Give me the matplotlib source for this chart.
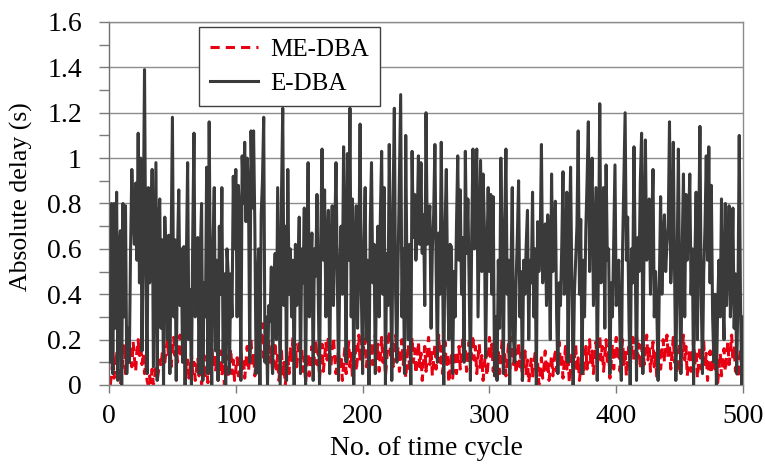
import numpy as np
import matplotlib
matplotlib.use('Agg')
import matplotlib.pyplot as plt
from matplotlib.ticker import MultipleLocator

plt.rcParams['font.family'] = ['Liberation Serif', 'DejaVu Serif']

# 데이터
edba = [
    0.10, 0.80, 0.05, 0.80, 0.25, 0.85, 0.02, 0.60, 0.68, 0.00,
    0.80, 0.30, 0.79, 0.05, 0.25, 0.10, 0.60, 0.95, 0.75, 0.62,
    0.89, 0.55, 1.11, 0.45, 1.00, 0.15, 0.70, 1.39, 0.50, 0.05,
    0.87, 0.45, 0.60, 0.95, 0.08, 0.52, 0.98, 0.02, 0.70, 0.82,
    0.25, 0.64, 0.00, 0.74, 0.55, 0.20, 0.66, 0.05, 0.60, 1.18,
    0.30, 0.64, 0.02, 0.58, 0.86, 0.35, 0.60, 0.10, 0.61, 0.00,
    0.55, 0.98, 0.20, 0.42, 0.00, 0.65, 1.11, 0.30, 0.45, 0.65,
    0.05, 0.58, 0.80, 0.02, 0.45, 0.30, 0.96, 0.05, 1.16, 0.36,
    0.00, 0.62, 0.87, 0.15, 0.55, 0.02, 0.70, 0.40, 0.87, 0.10,
    0.49, 0.00, 0.60, 0.49, 0.05, 0.49, 0.30, 0.92, 0.60, 0.95,
    0.30, 0.88, 0.75, 0.02, 1.01, 0.80, 1.07, 0.72, 1.00, 0.85,
    0.10, 1.12, 0.78, 1.12, 0.70, 0.05, 0.42, 0.60, 0.00, 0.75,
    0.90, 1.18, 0.10, 0.30, 0.00, 0.35, 0.28, 0.52, 0.05, 0.40,
    0.58, 0.20, 0.87, 0.45, 0.00, 0.83, 1.22, 0.35, 0.70, 0.02,
    0.95, 0.40, 0.60, 0.30, 0.55, 0.00, 0.62, 0.35, 0.50, 0.74,
    0.05, 0.60, 0.45, 0.78, 0.00, 0.55, 0.98, 0.30, 0.50, 0.67,
    0.02, 0.60, 0.48, 0.84, 0.40, 0.00, 0.65, 1.04, 0.55, 0.86,
    0.30, 0.62, 0.77, 0.05, 0.58, 0.79, 0.35, 0.65, 0.98, 0.50,
    0.02, 0.52, 0.70, 0.40, 1.05, 0.60, 0.10, 1.02, 0.55, 1.22,
    0.30, 0.82, 0.00, 0.60, 0.79, 0.25, 0.55, 1.15, 0.40, 0.05,
    0.60, 0.87, 0.20, 0.55, 0.00, 0.70, 0.98, 0.45, 0.62, 0.05,
    0.50, 0.70, 0.30, 0.75, 1.03, 0.40, 0.87, 0.00, 0.58, 0.35,
    1.06, 0.50, 0.02, 0.80, 1.22, 0.40, 0.10, 0.55, 0.90, 1.28,
    0.30, 0.60, 0.05, 1.10, 0.45, 0.20, 0.62, 0.00, 1.03, 0.65,
    0.84, 0.55, 0.70, 1.01, 0.62, 0.98, 0.58, 0.75, 0.35, 1.20,
    0.62, 0.70, 0.79, 0.25, 0.60, 0.75, 1.06, 0.50, 0.10, 0.67,
    0.40, 1.07, 0.55, 0.00, 0.70, 0.95, 0.45, 0.20, 0.62, 0.61,
    0.05, 0.50, 0.30, 0.70, 1.01, 0.55, 0.86, 0.40, 0.65, 0.10,
    1.03, 0.58, 0.82, 0.45, 0.02, 0.65, 1.04, 0.60, 0.85, 1.04,
    0.30, 0.65, 0.99, 0.50, 0.93, 0.70, 0.12, 0.55, 0.87, 0.50,
    0.84, 0.40, 0.83, 0.04, 0.30, 0.02, 0.55, 0.25, 1.00, 0.60,
    0.05, 0.70, 1.04, 0.40, 0.55, 0.00, 0.50, 0.87, 0.20, 0.10,
    0.45, 0.65, 0.90, 0.30, 0.50, 0.02, 0.55, 0.40, 0.62, 0.77,
    0.20, 0.55, 0.45, 0.85, 0.30, 0.60, 0.00, 0.72, 0.50, 0.62,
    1.06, 0.45, 0.60, 0.71, 0.35, 0.75, 0.55, 0.20, 0.93, 0.50,
    0.60, 0.81, 0.30, 0.05, 0.45, 0.35, 0.60, 0.94, 0.40, 0.55,
    0.85, 0.10, 0.62, 0.96, 0.45, 0.00, 0.40, 0.55, 0.70, 1.12,
    0.40, 0.73, 0.05, 0.55, 0.30, 0.68, 0.90, 1.16, 0.50, 0.80,
    1.00, 0.35, 0.60, 0.87, 0.02, 0.55, 1.24, 0.45, 0.70, 0.87,
    0.25, 0.97, 0.55, 0.60, 0.05, 0.45, 0.30, 0.65, 0.97, 0.35,
    0.46, 0.55, 0.20, 0.02, 0.60, 0.90, 1.20, 0.55, 0.74, 0.30,
    0.00, 0.60, 0.45, 1.05, 0.55, 0.02, 0.65, 0.50, 0.90, 1.11,
    0.05, 0.65, 1.08, 0.55, 0.60, 0.82, 0.40, 0.70, 0.95, 0.30,
    0.50, 0.34, 0.02, 0.45, 0.83, 0.40, 0.65, 0.75, 0.50, 0.62,
    0.70, 1.16, 0.45, 0.60, 1.07, 0.50, 0.02, 0.55, 1.04, 0.40,
    0.05, 0.60, 0.93, 0.30, 0.84, 0.55, 0.70, 0.93, 0.40, 0.60,
    0.00, 0.55, 0.85, 0.20, 0.65, 1.14, 0.40, 0.05, 0.50, 0.70,
    1.01, 0.55, 1.05, 0.45, 0.88, 0.30, 0.10, 0.40, 0.00, 0.35,
    0.55, 0.30, 0.82, 0.40, 0.20, 0.80, 0.35, 0.55, 0.79, 0.30,
    0.45, 0.78, 0.25, 0.49, 0.05, 0.40, 1.10, 0.35, 0.00, 0.30,
]

medba = [
    0.00, 0.05, 0.12, 0.03, 0.10, 0.15, 0.02, 0.08, 0.00, 0.06,
    0.12, 0.18, 0.05, 0.14, 0.20, 0.10, 0.16, 0.08, 0.19, 0.12,
    0.06, 0.15, 0.20, 0.13, 0.18, 0.09, 0.14, 0.05, 0.10, 0.02,
    0.00, 0.04, 0.01, 0.07, 0.00, 0.03, 0.09, 0.02, 0.06, 0.11,
    0.08, 0.14, 0.17, 0.10, 0.15, 0.20, 0.12, 0.18, 0.08, 0.16,
    0.21, 0.13, 0.19, 0.10, 0.15, 0.22, 0.12, 0.17, 0.09, 0.14,
    0.06, 0.11, 0.03, 0.08, 0.14, 0.05, 0.10, 0.02, 0.07, 0.12,
    0.04, 0.09, 0.00, 0.06, 0.13, 0.03, 0.08, 0.01, 0.05, 0.11,
    0.17, 0.09, 0.14, 0.06, 0.12, 0.02, 0.08, 0.15, 0.04, 0.10,
    0.00, 0.06, 0.13, 0.03, 0.09, 0.16, 0.05, 0.11, 0.02, 0.07,
    0.12, 0.04, 0.09, 0.15, 0.07, 0.12, 0.03, 0.10, 0.17, 0.06,
    0.13, 0.20, 0.08, 0.14, 0.04, 0.11, 0.18, 0.09, 0.15, 0.21,
    0.27, 0.12, 0.18, 0.08, 0.14, 0.20, 0.10, 0.16, 0.05, 0.12,
    0.19, 0.07, 0.13, 0.02, 0.09, 0.15, 0.04, 0.10, 0.00, 0.06,
    0.13, 0.05, 0.17, 0.10, 0.21, 0.13, 0.18, 0.08, 0.14, 0.20,
    0.11, 0.16, 0.06, 0.12, 0.01, 0.08, 0.14, 0.04, 0.10, 0.17,
    0.07, 0.13, 0.20, 0.09, 0.15, 0.03, 0.10, 0.18, 0.06, 0.12,
    0.19, 0.11, 0.22, 0.14, 0.08, 0.16, 0.21, 0.12, 0.05, 0.10,
    0.15, 0.07, 0.13, 0.02, 0.09, 0.17, 0.05, 0.12, 0.19, 0.08,
    0.14, 0.03, 0.10, 0.18, 0.06, 0.13, 0.22, 0.10, 0.16, 0.24,
    0.14, 0.20, 0.08, 0.15, 0.05, 0.11, 0.19, 0.09, 0.14, 0.22,
    0.12, 0.18, 0.06, 0.13, 0.21, 0.10, 0.16, 0.04, 0.11, 0.19,
    0.24, 0.13, 0.19, 0.08, 0.15, 0.22, 0.11, 0.17, 0.06, 0.12,
    0.20, 0.09, 0.15, 0.03, 0.11, 0.18, 0.07, 0.13, 0.21, 0.10,
    0.16, 0.05, 0.12, 0.19, 0.08, 0.14, 0.02, 0.10, 0.17, 0.06,
    0.13, 0.21, 0.09, 0.15, 0.04, 0.11, 0.18, 0.07, 0.14, 0.22,
    0.10, 0.17, 0.05, 0.12, 0.19, 0.08, 0.14, 0.01, 0.07, 0.13,
    0.03, 0.09, 0.15, 0.05, 0.11, 0.17, 0.07, 0.13, 0.20, 0.10,
    0.16, 0.06, 0.12, 0.19, 0.09, 0.15, 0.22, 0.11, 0.17, 0.05,
    0.12, 0.18, 0.07, 0.13, 0.02, 0.09, 0.15, 0.04, 0.10, 0.21,
    0.12, 0.18, 0.06, 0.13, 0.03, 0.09, 0.16, 0.05, 0.12, 0.20,
    0.10, 0.15, 0.04, 0.11, 0.18, 0.07, 0.14, 0.21, 0.09, 0.16,
    0.05, 0.12, 0.19, 0.08, 0.14, 0.02, 0.09, 0.15, 0.05, 0.11,
    0.01, 0.06, 0.12, 0.03, 0.09, 0.14, 0.04, 0.10, 0.00, 0.06,
    0.12, 0.03, 0.08, 0.15, 0.05, 0.11, 0.02, 0.07, 0.13, 0.04,
    0.10, 0.16, 0.06, 0.12, 0.19, 0.08, 0.14, 0.03, 0.10, 0.17,
    0.07, 0.13, 0.01, 0.08, 0.14, 0.05, 0.11, 0.18, 0.06, 0.12,
    0.02, 0.08, 0.15, 0.04, 0.10, 0.17, 0.07, 0.13, 0.20, 0.09,
    0.15, 0.05, 0.12, 0.19, 0.08, 0.14, 0.22, 0.11, 0.17, 0.06,
    0.13, 0.20, 0.09, 0.15, 0.03, 0.10, 0.18, 0.07, 0.14, 0.21,
    0.11, 0.17, 0.06, 0.13, 0.20, 0.09, 0.15, 0.04, 0.11, 0.18,
    0.08, 0.14, 0.21, 0.10, 0.16, 0.23, 0.12, 0.18, 0.07, 0.13,
    0.20, 0.09, 0.15, 0.22, 0.11, 0.17, 0.06, 0.12, 0.19, 0.08,
    0.14, 0.03, 0.10, 0.17, 0.07, 0.13, 0.20, 0.10, 0.16, 0.22,
    0.12, 0.18, 0.07, 0.14, 0.21, 0.10, 0.16, 0.05, 0.12, 0.19,
    0.08, 0.15, 0.22, 0.11, 0.17, 0.04, 0.10, 0.16, 0.06, 0.13,
    0.20, 0.09, 0.15, 0.03, 0.10, 0.17, 0.07, 0.13, 0.19, 0.08,
    0.14, 0.02, 0.09, 0.15, 0.05, 0.12, 0.18, 0.07, 0.13, 0.01,
    0.07, 0.14, 0.04, 0.10, 0.16, 0.06, 0.12, 0.19, 0.09, 0.15,
    0.22, 0.11, 0.17, 0.06, 0.13, 0.03, 0.09, 0.16, 0.05, 0.20,
]

xticks = [0, 100, 200, 300, 400, 500]
yticks = [0, 0.2, 0.4, 0.6, 0.8, 1.0, 1.2, 1.4, 1.6]
ytick_labels = ['0', '0.2', '0.4', '0.6', '0.8', '1', '1.2', '1.4', '1.6']

cycles_e = np.arange(1, len(edba) + 1)
cycles_m = np.arange(1, len(medba) + 1)

fig = plt.figure(figsize=(7.65, 4.68), dpi=100)
ax = fig.add_axes([0.1425, 0.1774, 0.8288, 0.7756])

# 선 그리기 (ME-DBA 먼저, E-DBA 위)
ax.plot(cycles_m, medba, color='#e60012', lw=2.2, ls=(0, (3, 2)),
        label='ME-DBA', zorder=2)
ax.plot(cycles_e, edba, color='#3a3a3a', lw=2.2, label='E-DBA', zorder=3)

ax.set_xlim(0, 500)
ax.set_ylim(0, 1.6)
ax.yaxis.set_minor_locator(MultipleLocator(0.1))

# 눈금 모양 먼저 정하고 나서 눈금 위치/라벨 지정
ax.tick_params(axis='y', which='major', direction='out', length=7, width=1,
               color='#7a7a7a', pad=12.5, labelsize=20)
ax.tick_params(axis='y', which='minor', direction='out', length=7, width=1,
               color='#7a7a7a')
ax.tick_params(axis='x', direction='out', length=6, width=1,
               color='#7a7a7a', pad=8, labelsize=20)

ax.set_xticks(xticks)
ax.set_yticks(yticks)
ax.set_yticklabels(ytick_labels)

ax.grid(axis='y', which='major', color='#8c8c8c', lw=1.0)
ax.set_axisbelow(True)

for s in ax.spines.values():
    s.set_color('#8c8c8c')
    s.set_linewidth(1.0)
ax.spines['left'].set_color('#6e6e6e')

ax.set_xlabel('No. of time cycle', fontsize=20)
ax.xaxis.set_label_coords(0.5, -0.14)
ax.set_ylabel('Absolute delay (s)', fontsize=18.5)
ax.yaxis.set_label_coords(-0.12, 0.52)

# 범례
leg = ax.legend(loc='upper left', bbox_to_anchor=(0.142, 0.986),
                borderaxespad=0, fontsize=18, frameon=True, fancybox=False,
                handlelength=1.9, handletextpad=0.5, labelspacing=0.45,
                borderpad=0.45)
leg.get_frame().set_edgecolor('#404040')
leg.get_frame().set_linewidth(1.0)
leg.get_frame().set_alpha(1)

plt.savefig('out.png', dpi=100)
